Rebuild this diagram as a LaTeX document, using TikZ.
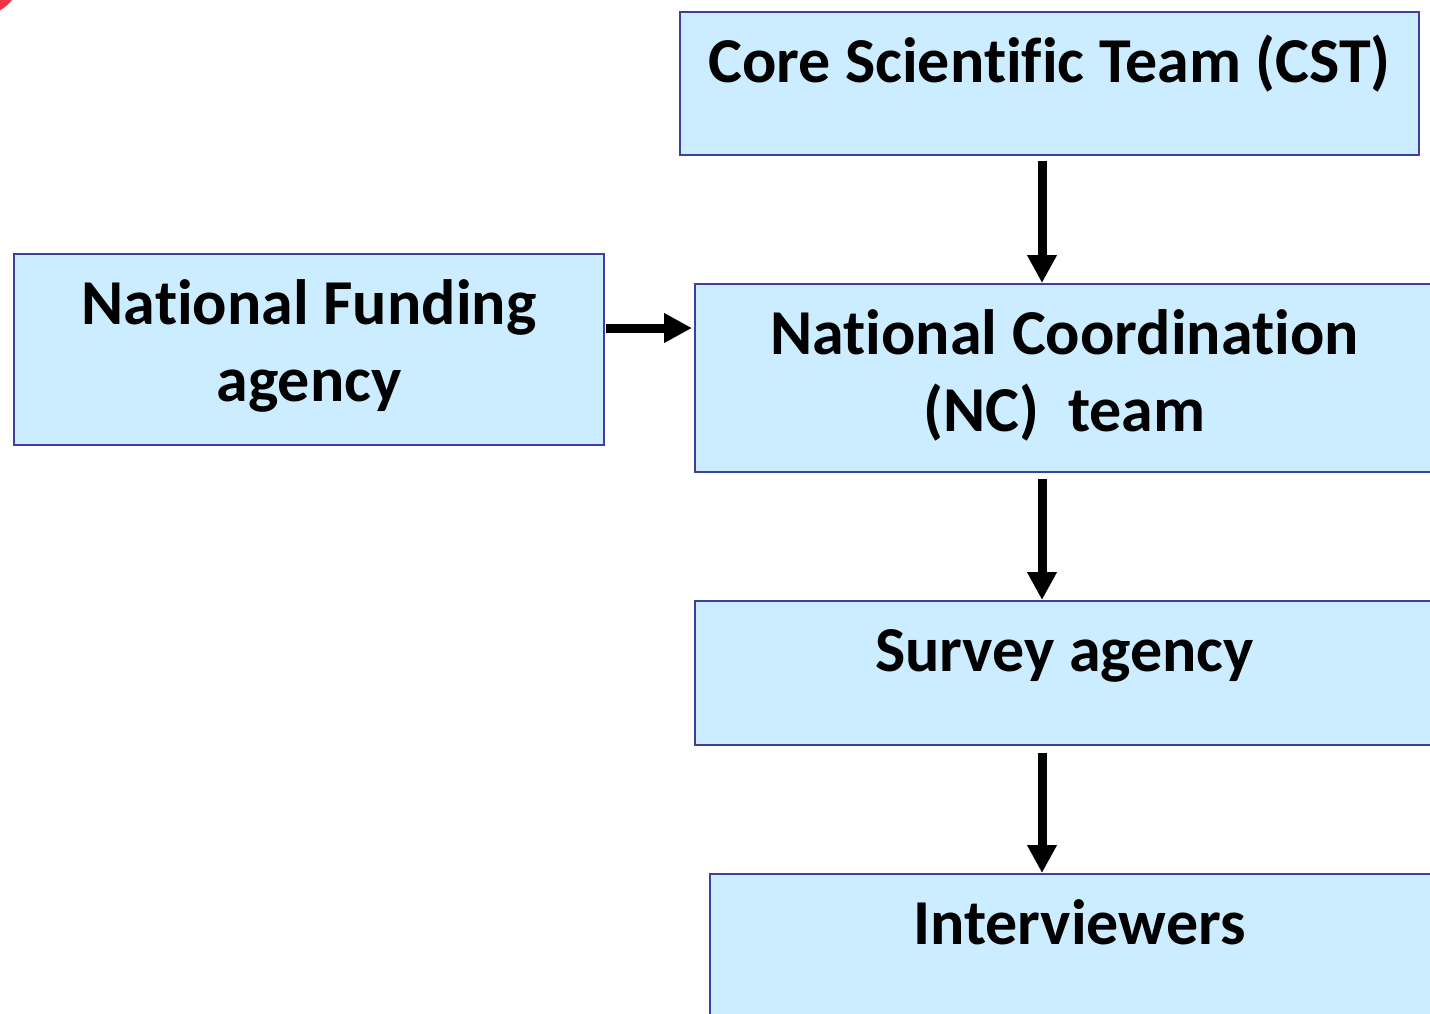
\documentclass[tikz,border=0pt]{standalone}
\usepackage{fontspec}
\setmainfont{Carlito}[Ligatures=NoCommon]
\usetikzlibrary{arrows.meta,calc}
\definecolor{boxfill}{HTML}{CCECFF}
\definecolor{boxline}{HTML}{3F3F9F}
\definecolor{markred}{HTML}{EE3344}
\begin{document}
\begin{tikzpicture}[x=0.5pt,y=-0.5pt,
  orgbox/.style={draw=boxline, fill=boxfill, line width=1pt, rectangle, inner sep=0pt},
  boxtext/.style={font=\fontsize{32}{38.5}\selectfont\bfseries, align=center, anchor=base, inner sep=0pt},
  flow/.style={line width=4.5pt, -{Triangle[length=14pt,width=14pt]}}]
\useasboundingbox (0,0) rectangle (1430,1013);
\clip (0,0) rectangle (1430,1013);

% corner mark
\fill[markred] (-20,-25) circle (40.6);

% boxes
\node[orgbox, minimum width=369.5pt, minimum height=71.5pt] (cst) at (1049.5,83.5) {};
\node[orgbox, minimum width=295pt, minimum height=95.5pt] (nfa) at (309,349.5) {};
\node[orgbox, minimum width=369.5pt, minimum height=94pt] (nc) at (1064.5,378) {};
\node[orgbox, minimum width=369.5pt, minimum height=72pt] (sa) at (1064.5,673) {};
\node[orgbox, minimum width=369.5pt, minimum height=93pt] (iv) at (1079.5,967) {};

% labels (base anchor sits on the last line of a two-line label)
\node[boxtext] (cst-t) at ($(cst.north)+(0,71)$) {Core Scientific Team (CST)};
\node[boxtext] (nfa-t) at ($(nfa.north)+(0,148)$) {National Funding\\agency};
\node[boxtext] (nc-t) at ($(nc.north)+(0,148)$) {National Coordination\\(NC)\ \ team};
\node[boxtext] (sa-t) at ($(sa.north)+(0,71)$) {Survey agency};
\node[boxtext] (iv-t) at ($(iv.north)+(0,71)$) {Interviewers};

% connectors
\coordinate (spine) at (1042,0);
\coordinate (hline) at (0,328);
\draw[flow, shorten <=2.5pt] (cst.south -| spine) -- (nc.north -| spine);
\draw[flow, shorten <=3pt] (nc.south -| spine) -- (sa.north -| spine);
\draw[flow, shorten <=3.5pt] (sa.south -| spine) -- (iv.north -| spine);
\draw[flow, shorten <=0.5pt, shorten >=1pt] (nfa.east |- hline) -- (nc.west |- hline);
\end{tikzpicture}
\end{document}
